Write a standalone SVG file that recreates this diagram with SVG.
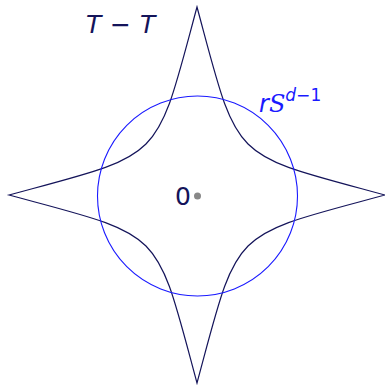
<svg xmlns="http://www.w3.org/2000/svg" width="385" height="385" viewBox="0 0 385 385">
<style>
.star{fill:none;stroke:#14145a;stroke-width:1.2}
.circ{fill:none;stroke:#1a1aff;stroke-width:1.1}
.lbl{font-family:"DejaVu Sans","Liberation Sans",sans-serif;fill:#14145a}
.blue{fill:#1a1aff}
</style>
<rect width="385" height="385" fill="#ffffff"/>
<g id="connectors"></g>
<g id="star-body">
<path class="star" d="M197,7 C154.6,164 166,152.6 9,195 C166,237.4 154.6,226 197,383 C239.4,226 228,237.4 385,195 C228,152.6 239.4,164 197,7 Z"/>
</g>
<g id="sphere">
<circle class="circ" cx="197.5" cy="196" r="100"/>
</g>
<g id="origin">
<circle cx="197.5" cy="196" r="3.5" fill="#888888"/>
<text class="lbl" x="175" y="205" font-size="25">0</text>
</g>
<g id="label-TT">
<text class="lbl" y="33" font-size="25"><tspan x="86" font-style="italic">T</tspan><tspan x="110">−</tspan><tspan x="140" font-style="italic">T</tspan></text>
</g>
<g id="label-rS">
<text class="lbl blue" x="259" y="112" font-size="24" font-style="italic">r<tspan font-family="DejaVu Serif">S</tspan><tspan font-size="17" dy="-11">d−<tspan font-style="normal">1</tspan></tspan></text>
</g>
</svg>
